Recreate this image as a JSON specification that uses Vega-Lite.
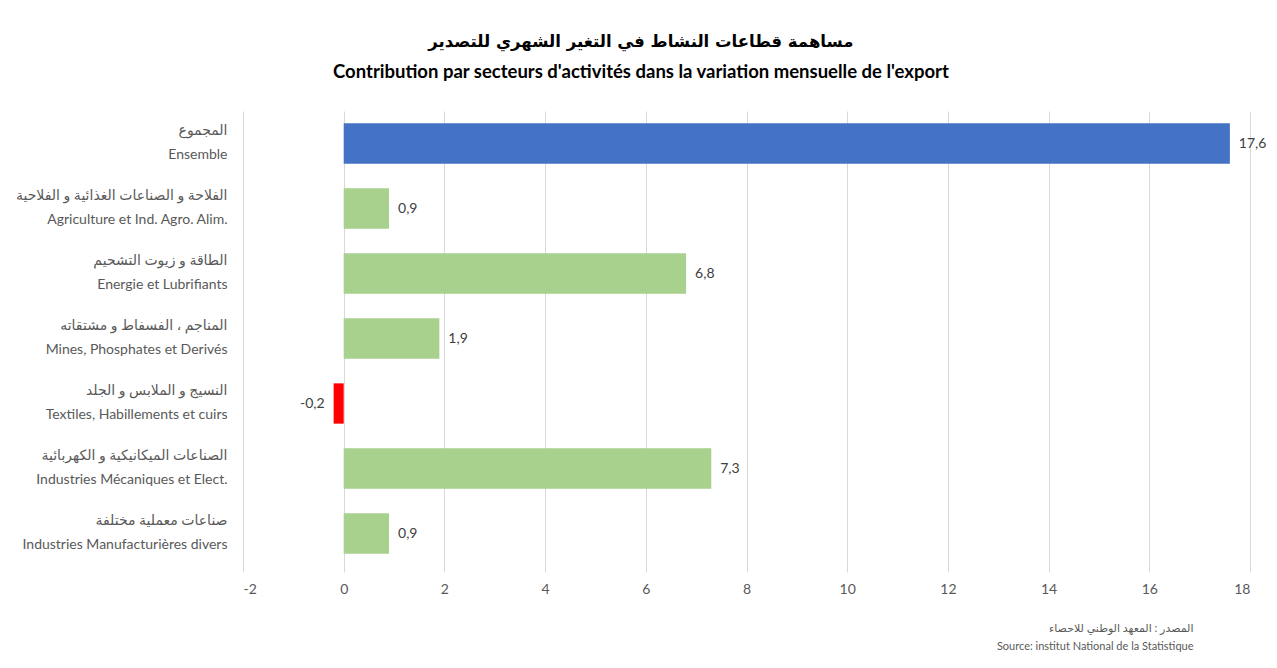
{
  "$schema": "https://vega.github.io/schema/vega-lite/v6.json",
  "width": 1007,
  "height": 455,
  "autosize": {"type": "none"},
  "padding": {"left": 243, "top": 111, "right": 27, "bottom": 102},
  "background": "white",
  "config": {
    "view": {"stroke": null},
    "locale": {"number": {"decimal": ",", "thousands": " ", "grouping": [3], "currency": ["", ""], "minus": "-"}},
    "font": "Lato, DejaVu Sans"
  },
  "title": {
    "text": "مساهمة قطاعات النشاط في التغير الشهري للتصدير",
    "subtitle": "Contribution par secteurs d'activités dans la variation mensuelle de l'export",
    "anchor": "middle",
    "frame": "bounds",
    "font": "DejaVu Sans",
    "fontSize": 16.5,
    "fontWeight": "bold",
    "color": "#000000",
    "subtitleFont": "Lato",
    "subtitleFontSize": 18.5,
    "subtitleFontWeight": "bold",
    "subtitleColor": "#000000",
    "subtitlePadding": 12,
    "offset": 30
  },
  "data": {
    "values": [
      {"sector": "المجموع|Ensemble", "value": 17.6, "group": "total"},
      {"sector": "الفلاحة و الصناعات الغذائية و الفلاحية|Agriculture et Ind. Agro. Alim.", "value": 0.9, "group": "sector"},
      {"sector": "الطاقة و زيوت التشحيم|Energie et Lubrifiants", "value": 6.8, "group": "sector"},
      {"sector": "المناجم ، الفسفاط و مشتقاته|Mines, Phosphates et Derivés", "value": 1.9, "group": "sector"},
      {"sector": "النسيج و الملابس و الجلد|Textiles, Habillements et cuirs", "value": -0.2, "group": "sector"},
      {"sector": "الصناعات الميكانيكية و الكهربائية|Industries Mécaniques et Elect.", "value": 7.3, "group": "sector"},
      {"sector": "صناعات معملية مختلفة|Industries Manufacturières divers", "value": 0.9, "group": "sector"}
    ]
  },
  "encoding": {
    "y": {
      "field": "sector",
      "type": "nominal",
      "sort": null,
      "scale": {"paddingInner": 0.38, "paddingOuter": 0.19},
      "axis": {
        "title": null,
        "labelExpr": "split(datum.label, '|')",
        "labelAlign": "right",
        "labelBaseline": "middle",
        "labelPadding": 16,
        "labelOffset": -13,
        "labelLineHeight": 24,
        "labelFontSize": 14,
        "labelColor": "#595959",
        "labelLimit": 400,
        "ticks": false,
        "domain": false,
        "grid": false
      }
    },
    "x": {
      "field": "value",
      "type": "quantitative",
      "scale": {"domain": [-2, 18], "nice": false, "zero": false},
      "axis": {
        "values": [-2, 0, 2, 4, 6, 8, 10, 12, 14, 16, 18],
        "format": "d",
        "grid": true,
        "gridColor": "#d9d9d9",
        "gridWidth": 1,
        "domain": false,
        "ticks": true,
        "tickColor": "#d9d9d9",
        "tickSize": 6,
        "labelPadding": 10,
        "labelFontSize": 14,
        "labelColor": "#595959",
        "title": ["المصدر : المعهد الوطني للاحصاء", "Source: institut National de la Statistique"],
        "titleFont": "Lato, DejaVu Sans",
        "titleFontSize": 11,
        "titleFontWeight": "normal",
        "titleColor": "#595959",
        "titleAnchor": "end",
        "titleAlign": "right",
        "titleX": 950,
        "titleLineHeight": 18,
        "titlePadding": 26
      }
    }
  },
  "layer": [
    {
      "mark": {"type": "bar"},
      "encoding": {
        "color": {
          "condition": [
            {"test": "datum.group === 'total'", "value": "#4472C4"},
            {"test": "datum.value < 0", "value": "#FF0000"}
          ],
          "value": "#A9D18E"
        }
      }
    },
    {
      "transform": [{"filter": "datum.value >= 0"}],
      "mark": {"type": "text", "align": "left", "baseline": "middle", "dx": 9, "fontSize": 14, "color": "#404040"},
      "encoding": {"text": {"field": "value", "type": "quantitative", "format": ".1f"}}
    },
    {
      "transform": [{"filter": "datum.value < 0"}],
      "mark": {"type": "text", "align": "right", "baseline": "middle", "dx": -9, "fontSize": 14, "color": "#404040"},
      "encoding": {"text": {"field": "value", "type": "quantitative", "format": ".1f"}}
    }
  ]
}
